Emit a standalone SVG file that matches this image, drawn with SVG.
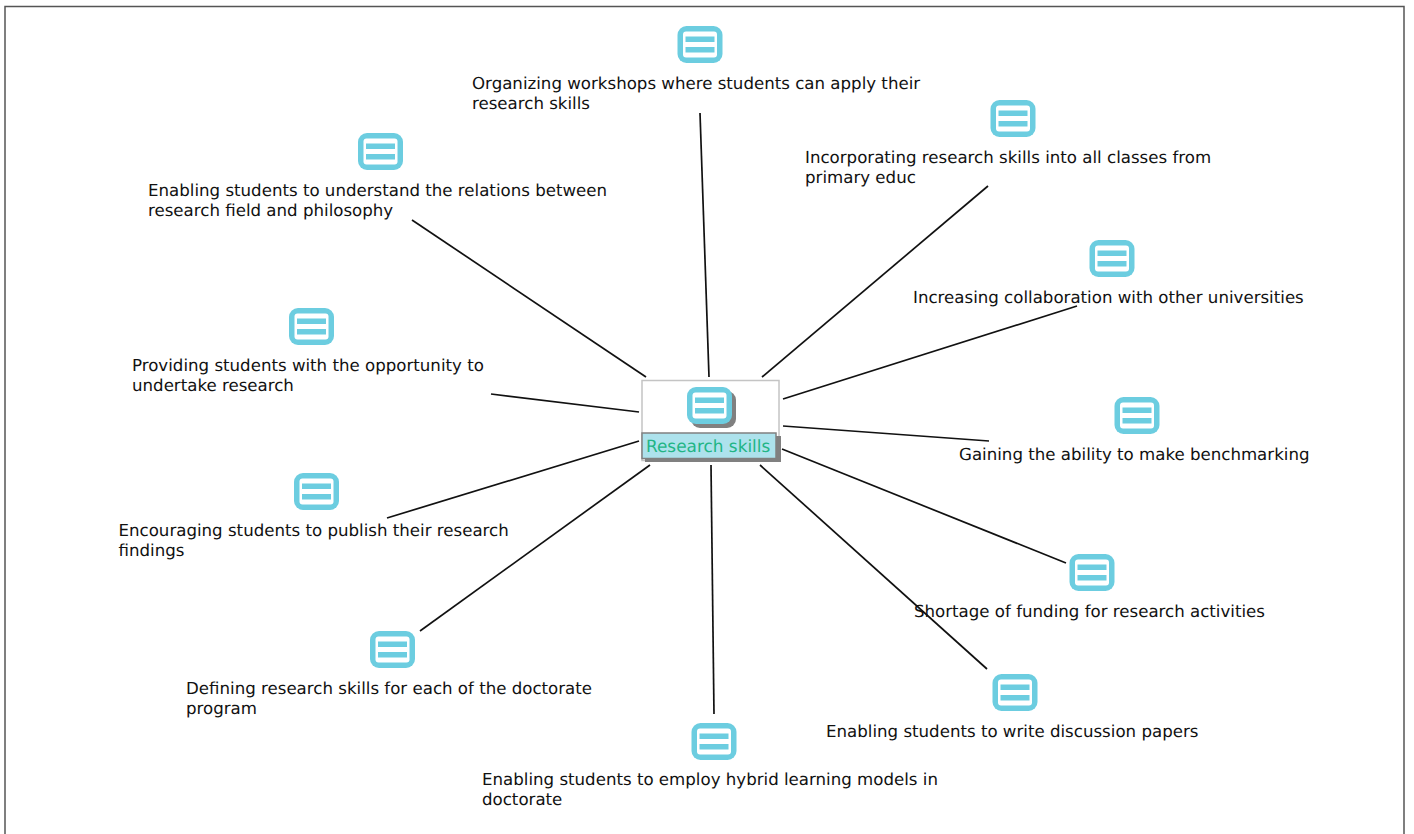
<svg xmlns="http://www.w3.org/2000/svg" width="1414" height="834" viewBox="0 0 1414 834">
<style>
text{font-family:"DejaVu Sans",Verdana,sans-serif;font-size:16.640px;fill:#111;text-rendering:geometricPrecision}
.c line{stroke:#111;stroke-width:1.700;fill:none}
.o{fill:#6ccde0}
.w{fill:#fff}
.b{fill:#6ccde0}
</style>
<defs>
<g id="ic">
<rect x="0" y="0" width="45" height="37" rx="9" class="o"/>
<rect x="5.500" y="5.500" width="34" height="26" rx="3" class="w"/>
<rect x="8" y="10.500" width="29" height="5.500" class="b"/>
<rect x="8" y="21" width="29" height="5.500" class="b"/>
</g>
</defs>
<rect width="1414" height="834" fill="#fff"/>
<path d="M5 834V6.500H1404V834" fill="none" stroke="#555" stroke-width="1.500"/>
<g class="c" id="connectors">
<line x1="700" y1="113" x2="709" y2="377"/>
<line x1="988" y1="186" x2="762" y2="377"/>
<line x1="1077" y1="306" x2="783" y2="399"/>
<line x1="989" y1="441" x2="783" y2="426"/>
<line x1="1066" y1="563" x2="782" y2="449"/>
<line x1="987" y1="669" x2="760" y2="465"/>
<line x1="714" y1="714" x2="711" y2="465"/>
<line x1="420" y1="631" x2="650" y2="465"/>
<line x1="387" y1="518" x2="639" y2="441"/>
<line x1="491" y1="394" x2="639" y2="412"/>
<line x1="412" y1="220" x2="646" y2="377"/>
</g>
<g id="center">
<rect x="642" y="380.500" width="137" height="80" fill="#fff" stroke="#c4c4c4" stroke-width="1.500"/>
<rect x="691" y="391" width="45" height="37" rx="9" fill="#808080"/>
<use href="#ic" x="687" y="387"/>
<rect x="645" y="436" width="136" height="26" fill="#808080"/>
<rect x="642" y="433" width="134" height="25.500" fill="#ade2ec" stroke="#808080" stroke-width="1.500"/>
<text x="646" y="451.500" style="fill:#22b585;font-size:16.900px">Research skills</text>
</g>
<g id="n1"><use href="#ic" x="677.500" y="26"/><text x="472" y="88.500">Organizing workshops where students can apply their</text><text x="472" y="108.500">research skills</text></g>
<g id="n2"><use href="#ic" x="990.500" y="100"/><text x="805" y="162.500">Incorporating research skills into all classes from</text><text x="805" y="182.500">primary educ</text></g>
<g id="n3"><use href="#ic" x="1089.500" y="240"/><text x="913" y="302.500">Increasing collaboration with other universities</text></g>
<g id="n4"><use href="#ic" x="1114.500" y="397"/><text x="959" y="459.500">Gaining the ability to make benchmarking</text></g>
<g id="n5"><use href="#ic" x="1069.500" y="554"/><text x="914" y="616.500">Shortage of funding for research activities</text></g>
<g id="n6"><use href="#ic" x="992.500" y="674"/><text x="826" y="736.500">Enabling students to write discussion papers</text></g>
<g id="n7"><use href="#ic" x="691.500" y="723"/><text x="482" y="784.500">Enabling students to employ hybrid learning models in</text><text x="482" y="804.500">doctorate</text></g>
<g id="n8"><use href="#ic" x="370" y="631"/><text x="186" y="693.500">Defining research skills for each of the doctorate</text><text x="186" y="713.500">program</text></g>
<g id="n9"><use href="#ic" x="294" y="473"/><text x="118.500" y="535.500">Encouraging students to publish their research</text><text x="118.500" y="555.500">findings</text></g>
<g id="n10"><use href="#ic" x="289" y="308"/><text x="132" y="370.500">Providing students with the opportunity to</text><text x="132" y="390.500">undertake research</text></g>
<g id="n11"><use href="#ic" x="358" y="133"/><text x="148" y="195.500">Enabling students to understand the relations between</text><text x="148" y="215.500">research field and philosophy</text></g>
</svg>
